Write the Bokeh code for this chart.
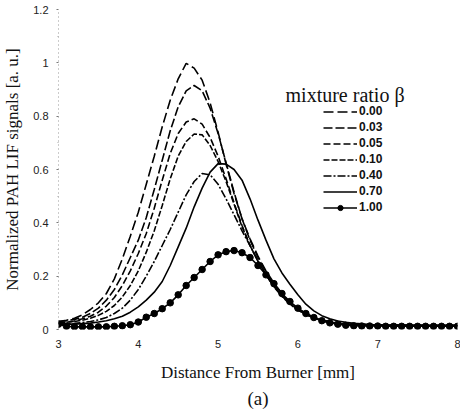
from bokeh.plotting import figure
from bokeh.models import Legend, LegendItem, Label, Title, FixedTicker
from bokeh.embed import file_html
from bokeh.resources import INLINE

# ---- data ----
x_mm = [3.0, 3.1, 3.2, 3.3, 3.4, 3.5, 3.6, 3.7, 3.8, 3.9,
        4.0, 4.1, 4.2, 4.3, 4.4, 4.5, 4.6, 4.7, 4.8, 4.9,
        5.0, 5.1, 5.2, 5.3, 5.4, 5.5, 5.6, 5.7, 5.8, 5.9,
        6.0, 6.1, 6.2, 6.3, 6.4, 6.5, 6.6, 6.7, 6.8, 6.9,
        7.0, 7.1, 7.2, 7.3, 7.4, 7.5, 7.6, 7.7, 7.8, 7.9, 8.0]

ratio_000 = [0.030, 0.035, 0.042, 0.055, 0.075, 0.100, 0.135, 0.190, 0.265, 0.350,
             0.440, 0.545, 0.650, 0.760, 0.860, 0.940, 0.998, 0.980, 0.935, 0.850,
             0.740, 0.620, 0.510, 0.415, 0.340, 0.275, 0.220, 0.175, 0.135, 0.100,
             0.078, 0.060, 0.046, 0.036, 0.029, 0.024, 0.021, 0.019, 0.018, 0.017,
             0.017, 0.016, 0.016, 0.016, 0.015, 0.015, 0.015, 0.015, 0.015, 0.015, 0.015]
ratio_003 = [0.030, 0.033, 0.038, 0.046, 0.060, 0.080, 0.110, 0.150, 0.205, 0.270,
             0.335, 0.420, 0.525, 0.635, 0.745, 0.835, 0.895, 0.915, 0.895, 0.830,
             0.735, 0.625, 0.515, 0.415, 0.335, 0.270, 0.215, 0.170, 0.130, 0.098,
             0.076, 0.058, 0.045, 0.035, 0.028, 0.023, 0.020, 0.019, 0.018, 0.017,
             0.017, 0.016, 0.016, 0.016, 0.015, 0.015, 0.015, 0.015, 0.015, 0.015, 0.015]
ratio_005 = [0.025, 0.028, 0.032, 0.040, 0.050, 0.065, 0.088, 0.120, 0.165, 0.220,
             0.285, 0.360, 0.455, 0.560, 0.660, 0.735, 0.778, 0.790, 0.770, 0.720,
             0.650, 0.565, 0.475, 0.390, 0.315, 0.255, 0.205, 0.162, 0.126, 0.096,
             0.074, 0.057, 0.044, 0.034, 0.027, 0.022, 0.019, 0.018, 0.017, 0.017,
             0.016, 0.016, 0.016, 0.015, 0.015, 0.015, 0.015, 0.015, 0.015, 0.015, 0.015]
ratio_010 = [0.025, 0.027, 0.030, 0.035, 0.042, 0.053, 0.068, 0.090, 0.122, 0.165,
             0.220, 0.290, 0.370, 0.465, 0.565, 0.650, 0.705, 0.733, 0.730, 0.690,
             0.630, 0.555, 0.470, 0.385, 0.315, 0.255, 0.205, 0.162, 0.127, 0.097,
             0.075, 0.057, 0.044, 0.034, 0.027, 0.022, 0.019, 0.018, 0.017, 0.017,
             0.016, 0.016, 0.016, 0.015, 0.015, 0.015, 0.015, 0.015, 0.015, 0.015, 0.015]
ratio_040 = [0.020, 0.021, 0.023, 0.026, 0.030, 0.036, 0.045, 0.060, 0.080, 0.110,
             0.150, 0.200, 0.255, 0.315, 0.375, 0.440, 0.505, 0.555, 0.585, 0.580,
             0.545, 0.490, 0.430, 0.370, 0.315, 0.258, 0.205, 0.160, 0.124, 0.095,
             0.073, 0.056, 0.043, 0.033, 0.026, 0.021, 0.018, 0.017, 0.017, 0.016,
             0.016, 0.016, 0.015, 0.015, 0.015, 0.015, 0.015, 0.015, 0.015, 0.015, 0.015]
ratio_070 = [0.020, 0.020, 0.020, 0.022, 0.024, 0.028, 0.033, 0.040, 0.050, 0.065,
             0.085, 0.110, 0.140, 0.180, 0.240, 0.310, 0.380, 0.460, 0.530, 0.590,
             0.622, 0.620, 0.600, 0.560, 0.490, 0.410, 0.335, 0.265, 0.212, 0.170,
             0.130, 0.095, 0.070, 0.052, 0.040, 0.032, 0.027, 0.023, 0.021, 0.019,
             0.018, 0.017, 0.017, 0.016, 0.016, 0.016, 0.015, 0.015, 0.015, 0.015, 0.015]
ratio_100 = [0.020, 0.012, 0.010, 0.010, 0.010, 0.010, 0.010, 0.012, 0.014, 0.018,
             0.028, 0.046, 0.060, 0.078, 0.100, 0.130, 0.165, 0.195, 0.225, 0.255,
             0.280, 0.292, 0.296, 0.288, 0.270, 0.240, 0.205, 0.172, 0.135, 0.105,
             0.080, 0.060, 0.045, 0.033, 0.025, 0.020, 0.016, 0.014, 0.013, 0.013,
             0.013, 0.012, 0.012, 0.012, 0.012, 0.012, 0.012, 0.012, 0.012, 0.012, 0.012]

series_labels = ["0.00", "0.03", "0.05", "0.10", "0.40", "0.70", "1.00"]
x_ticks = [3, 4, 5, 6, 7, 8]
y_ticks = [0, 0.2, 0.4, 0.6, 0.8, 1.0, 1.2]
y_tick_labels = ["0", "0.2", "0.4", "0.6", "0.8", "1", "1.2"]

SERIF = "Liberation Serif"
SANS = "Liberation Sans"

p = figure(frame_width=399, frame_height=320, output_backend="svg", toolbar_location=None,
           x_range=(3, 8), y_range=(0, 1.2),
           min_border_left=58, min_border_right=3, min_border_top=9, min_border_bottom=82)
p.outline_line_color = None
p.grid.visible = False
p.background_fill_color = "white"

# axes
p.xaxis.ticker = FixedTicker(ticks=x_ticks)
p.yaxis.ticker = FixedTicker(ticks=y_ticks, minor_ticks=[0.1, 0.3, 0.5, 0.7, 0.9, 1.1])
p.yaxis.major_label_overrides = {t: s for t, s in zip(y_ticks, y_tick_labels)}
for ax in (p.xaxis[0], p.yaxis[0]):
    ax.major_label_text_font = SANS
    ax.major_label_text_font_size = "11px"
    ax.major_label_text_color = "#222222"
    ax.axis_label_text_font = SERIF
    ax.axis_label_text_font_size = "17px"
    ax.axis_label_text_font_style = "normal"
    ax.axis_label_text_color = "#111111"
p.xaxis.axis_line_color = None
p.xaxis.major_tick_line_color = None
p.xaxis.minor_tick_line_color = None
p.xaxis.major_tick_out = 0
p.xaxis.major_tick_in = 0
p.xaxis.major_label_standoff = 10
p.xaxis.axis_label = "Distance From Burner [mm]"
p.xaxis.axis_label_standoff = 12
p.yaxis.axis_line_color = "#999999"
p.yaxis.axis_line_dash = "1 3"
p.yaxis.major_tick_line_color = "#777777"
p.yaxis.major_tick_out = 2
p.yaxis.major_tick_in = 0
p.yaxis.minor_tick_line_color = "#aaaaaa"
p.yaxis.minor_tick_out = 1
p.yaxis.minor_tick_in = 0
p.yaxis.major_label_standoff = 8
p.yaxis.axis_label = "Normalized PAH LIF signals [a. u.]"
p.yaxis.axis_label_standoff = 8

# series
dashes = ["10 4", "9 3", "7 3", "6 2", "8 2 2 2"]
ys = [ratio_000, ratio_003, ratio_005, ratio_010, ratio_040]
items = []
for lab, y, d in zip(series_labels[:5], ys, dashes):
    r = p.line(x_mm, y, line_color="black", line_width=1.6, line_dash=d)
    items.append(LegendItem(label=lab, renderers=[r]))
r70 = p.line(x_mm, ratio_070, line_color="black", line_width=1.6)
items.append(LegendItem(label=series_labels[5], renderers=[r70]))
r100 = p.line(x_mm, ratio_100, line_color="black", line_width=1.6)
s100 = p.scatter(x_mm, ratio_100, marker="circle", size=6.5, fill_color="black", line_color="black")
items.append(LegendItem(label=series_labels[6], renderers=[r100, s100]))

legend = Legend(items=items, location=(265, 115), orientation="vertical",
                glyph_width=34, glyph_height=13, label_height=13, spacing=2,
                padding=0, margin=0, label_standoff=2,
                label_text_font=SANS, label_text_font_size="12px",
                label_text_font_style="bold", label_text_color="#111111",
                border_line_color=None, background_fill_alpha=0)
p.add_layout(legend, "center")

p.add_layout(Label(x=5.845, y=0.881, text="mixture ratio \u03b2", text_baseline="middle",
                   text_align="left", text_font=SERIF, text_font_size="20px",
                   text_color="#111111"))

p.add_layout(Title(text="(a)", align="center", text_font=SERIF, text_font_size="19px",
                   text_font_style="normal", text_color="#111111", standoff=2, offset=0), "below")

open("out.html", "w").write(file_html(p, INLINE))
